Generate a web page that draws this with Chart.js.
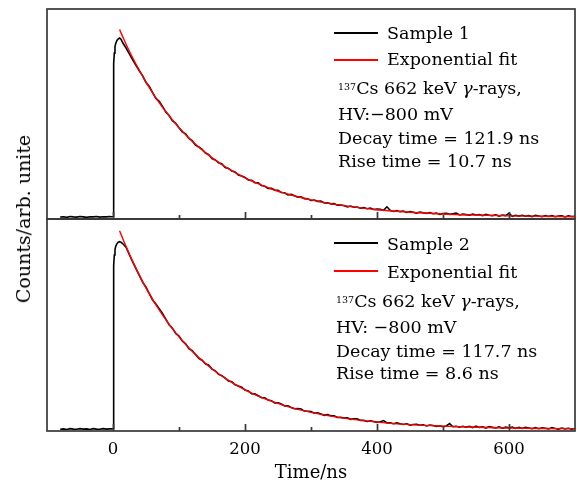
<!DOCTYPE html>
<html>
<head>
<meta charset="utf-8">
<script src="https://cdn.jsdelivr.net/npm/chart.js@4.4.1/dist/chart.umd.min.js"></script>
<style>
  body { margin: 0; background: #fff; overflow: hidden; }
  #wrap { position: relative; width: 577px; height: 484px; font-family: "DejaVu Serif", serif; color: #000; }
  #wrap canvas { position: absolute; left: 0; top: 0; }
  .txt { position: absolute; font-size: 17.5px; line-height: 17.5px; white-space: nowrap; }
  .txt sup { font-size: 9.5px; vertical-align: 4px; line-height: 0; }
  .key { position: absolute; width: 44px; height: 1.5px; background: #000; }
  .key.red { background: #ff0000; }
  #ytitle { position: absolute; left: 23px; top: 219px; font-size: 19px; white-space: nowrap;
            transform: translate(-50%, -50%) rotate(-90deg); }
</style>
</head>
<body>
<div id="wrap">
  <canvas id="chartTop" width="577" height="484"></canvas>
  <canvas id="chartBottom" width="577" height="484"></canvas>

  <div id="ytitle">Counts/arb. unite</div>

  <div class="key" style="left:334px; top:32px;"></div>
  <div class="txt" style="left:387px; top:24.5px;">Sample 1</div>
  <div class="key red" style="left:334px; top:59px;"></div>
  <div class="txt" style="left:387px; top:51px;">Exponential fit</div>
  <div class="txt" style="left:338px; top:79.5px;"><sup>137</sup>Cs 662 keV <i>γ</i>-rays,</div>
  <div class="txt" style="left:338px; top:106px;">HV:−800 mV</div>
  <div class="txt" style="left:338px; top:129.5px;">Decay time = 121.9 ns</div>
  <div class="txt" style="left:338px; top:153px;">Rise time = 10.7 ns</div>

  <div class="key" style="left:334px; top:242px;"></div>
  <div class="txt" style="left:387px; top:236px;">Sample 2</div>
  <div class="key red" style="left:334px; top:270px;"></div>
  <div class="txt" style="left:387px; top:263.5px;">Exponential fit</div>
  <div class="txt" style="left:336px; top:292.5px;"><sup>137</sup>Cs 662 keV <i>γ</i>-rays,</div>
  <div class="txt" style="left:336px; top:318.5px;">HV: −800 mV</div>
  <div class="txt" style="left:336px; top:342.5px;">Decay time = 117.7 ns</div>
  <div class="txt" style="left:336px; top:365px;">Rise time = 8.6 ns</div>
</div>

<script>
// time axis of the measured pulses (ns)
var sampleTime = [
  -80, -75, -70, -65, -60, -55, -50, -45, -40, -35, -30, -25, -20, -15, -10, -5, -2, 0,
  0.5, 1, 1.5, 2, 3, 4, 6, 8, 10, 12, 15,
  20, 25, 30, 35, 40, 45, 50, 55, 60, 65,
  70, 75, 80, 85, 90, 95, 100, 105, 110, 115,
  120, 125, 130, 135, 140, 145, 150, 155, 160, 165,
  170, 175, 180, 185, 190, 195, 200, 205, 210, 215,
  220, 225, 230, 235, 240, 245, 250, 255, 260, 265,
  270, 275, 280, 285, 290, 295, 300, 305, 310, 315,
  320, 325, 330, 335, 340, 345, 350, 355, 360, 365,
  370, 375, 380, 385, 390, 395, 400, 405, 410, 415,
  420, 425, 430, 435, 440, 445, 450, 455, 460, 465,
  470, 475, 480, 485, 490, 495, 500, 505, 510, 515,
  520, 525, 530, 535, 540, 545, 550, 555, 560, 565,
  570, 575, 580, 585, 590, 595, 600, 605, 610, 615,
  620, 625, 630, 635, 640, 645, 650, 655, 660, 665,
  670, 675, 680, 685, 690, 695, 700
];

// Sample 1 pulse (arb. units)
var sample1 = [
  .009, .011, .008, .012, .010, .009, .012, .010, .008, .011, .010, .012, .009, .011, .010, .012, .011, .012,
  .40, .62, .74, .79, .82, .835, .850, .858, .862, .856, .838,
  .813, .785, .757, .731, .705, .682, .650, .631, .602, .574,
  .560, .536, .510, .493, .468, .456, .435, .415, .405, .384,
  .373, .352, .343, .332, .314, .307, .288, .281, .268, .262,
  .245, .241, .228, .224, .209, .205, .198, .186, .184, .173,
  .172, .159, .156, .146, .146, .138, .137, .126, .125, .115,
  .117, .111, .104, .106, .097, .096, .088, .090, .084, .085,
  .076, .077, .072, .073, .066, .067, .064, .058, .062, .056,
  .057, .051, .054, .049, .052, .045, .047, .046, .041, .058,
  .041, .036, .040, .035, .038, .031, .035, .032, .028, .033,
  .030, .026, .030, .025, .028, .022, .026, .027, .022, .025,
  .028, .019, .023, .021, .018, .023, .019, .021, .016, .022,
  .018, .016, .020, .014, .019, .016, .027, .013, .018, .014,
  .018, .013, .016, .011, .018, .014, .011, .016, .012, .016,
  .011, .014, .015, .010, .015, .012, .013
];

// Sample 2 pulse (arb. units)
var sample2 = [
  .008, .010, .007, .011, .009, .008, .011, .009, .010, .007, .011, .009, .008, .011, .009, .010, .010, .011,
  .42, .66, .78, .83, .855, .870, .884, .891, .893, .891, .883,
  .866, .830, .797, .765, .733, .702, .678, .648, .618, .599,
  .577, .554, .528, .501, .485, .460, .448, .425, .411, .388,
  .379, .361, .343, .334, .317, .310, .292, .284, .267, .261,
  .249, .236, .232, .218, .212, .207, .193, .189, .176, .175,
  .166, .157, .157, .146, .143, .132, .133, .127, .118, .119,
  .111, .105, .106, .104, .094, .093, .092, .084, .086, .080,
  .074, .077, .072, .072, .064, .065, .061, .062, .055, .057,
  .057, .050, .050, .045, .048, .045, .041, .044, .049, .038,
  .039, .034, .038, .034, .031, .034, .028, .031, .032, .027,
  .029, .024, .028, .026, .022, .025, .020, .024, .035, .020,
  .022, .018, .022, .018, .022, .016, .023, .017, .020, .014,
  .021, .017, .014, .019, .013, .018, .015, .019, .012, .017,
  .012, .017, .014, .011, .016, .011, .015, .013, .010, .016,
  .012, .009, .014, .010, .013, .009, .012
];

// exponential fit curves
var fitTime = [10, 15, 20, 30, 40, 50, 60, 70, 80, 90, 100, 120, 140, 160, 180, 200,
               220, 240, 260, 280, 300, 330, 360, 400, 450, 500, 550, 600, 650, 700];
var fit1 = [.902, .866, .831, .766, .707, .652, .601, .554, .511, .472, .435, .370, .316, .269, .230, .196,
            .168, .143, .123, .106, .091, .073, .059, .044, .032, .024, .019, .015, .013, .011];
var fit2 = [.945, .906, .869, .799, .734, .675, .621, .571, .525, .483, .444, .376, .318, .270, .229, .194,
            .165, .141, .120, .102, .088, .070, .056, .042, .030, .023, .018, .014, .012, .011];

// x ticks
var tickValues = [0, 100, 200, 300, 400, 500, 600];
var tickLabels = [0, 200, 400, 600];
var xMin = -100, xMax = 700;

function toPoints(xs, ys) {
    return xs.map(function(x, i) { return {x: x, y: ys[i]}; });
}

// frame box and inward ticks
var framePlugin = {
    id: 'frame',
    afterDraw: function(chart) {
        var ctx = chart.ctx, a = chart.chartArea, x = chart.scales.x;
        ctx.save();
        ctx.strokeStyle = '#383838';
        ctx.lineWidth = 1.7;
        ctx.strokeRect(a.left, a.top, a.right - a.left, a.bottom - a.top);
        ctx.beginPath();
        tickValues.forEach(function(v) {
            var px = Math.round(x.getPixelForValue(v)) + 0.5;
            var len = (v % 200 === 0) ? 7 : 4;
            ctx.moveTo(px, a.bottom);
            ctx.lineTo(px, a.bottom - len);
        });
        ctx.stroke();
        ctx.restore();
    }
};

function makePanel(canvasId, data, fit, padding, showAxis) {
    var ctx = document.getElementById(canvasId);
    return new Chart(ctx, {
        type: 'line',
        data: {
            datasets: [{
                label: 'Exponential fit',
                data: toPoints(fitTime, fit),
                borderColor: '#ff0000',
                borderWidth: 1.4,
                pointRadius: 0,
                cubicInterpolationMode: 'monotone',
                order: 0
            }, {
                label: 'Sample',
                data: toPoints(sampleTime, data),
                borderColor: '#000',
                borderWidth: 1.6,
                pointRadius: 0,
                tension: 0,
                order: 1
            }]
        },
        options: {
            responsive: false,
            animation: false,
            devicePixelRatio: 1,
            layout: { padding: padding },
            plugins: { legend: { display: false }, tooltip: { enabled: false } },
            scales: {
                x: {
                    type: 'linear',
                    min: xMin,
                    max: xMax,
                    display: showAxis,
                    grid: { display: false, drawTicks: false },
                    border: { display: false },
                    afterBuildTicks: function(scale) {
                        scale.ticks = tickLabels.map(function(v) { return {value: v}; });
                    },
                    afterFit: function(scale) {
                        // fixed axis band below the lower panel
                        if (showAxis) scale.height = 53;
                    },
                    ticks: {
                        padding: 9,
                        color: '#000',
                        font: { family: 'DejaVu Serif', size: 16.5 }
                    },
                    title: {
                        display: true,
                        text: 'Time/ns',
                        color: '#000',
                        padding: 0,
                        font: { family: 'DejaVu Serif', size: 18 }
                    }
                },
                y: { min: 0, max: 1, display: false }
            }
        },
        plugins: [framePlugin]
    });
}

makePanel('chartTop', sample1, fit1, { left: 47, right: 2, top: 9, bottom: 265 }, false);
makePanel('chartBottom', sample2, fit2, { left: 47, right: 2, top: 219, bottom: 0 }, true);
</script>
</body>
</html>
